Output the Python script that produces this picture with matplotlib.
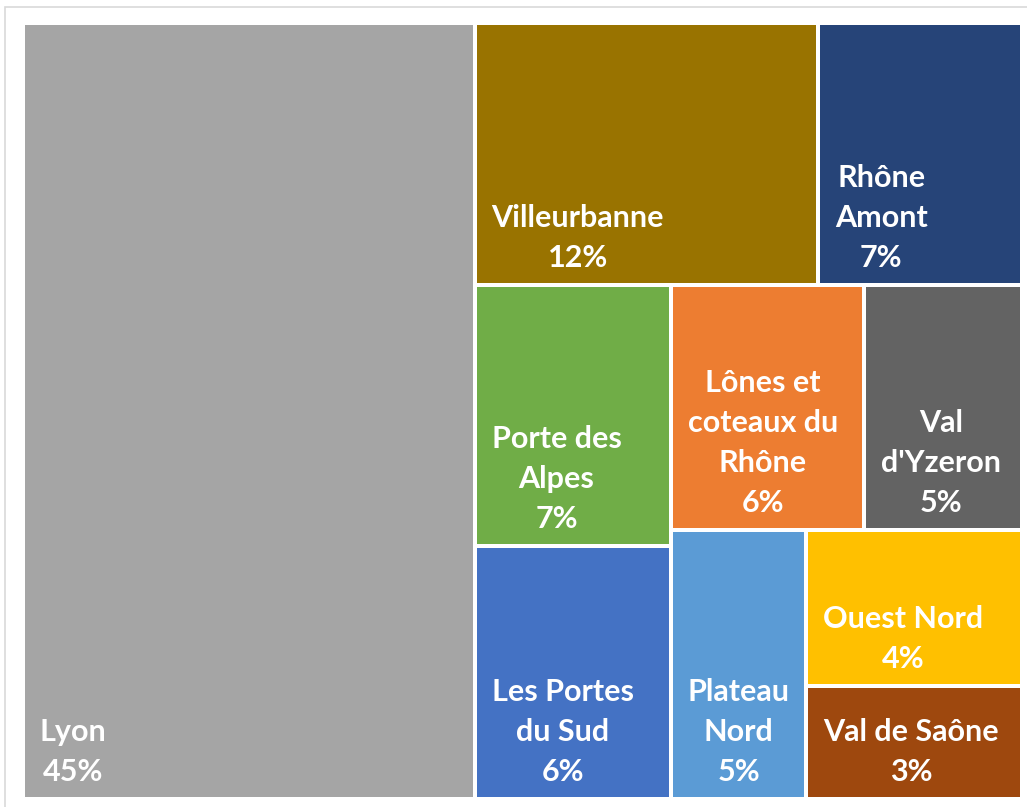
import matplotlib
matplotlib.use("Agg")
import matplotlib.pyplot as plt
from matplotlib.patches import Rectangle

# ---- data ----
names = ["Lyon", "Villeurbanne", "Rhône\nAmont", "Porte des\nAlpes", "Les Portes\ndu Sud",
         "Lônes et\ncoteaux du\nRhône", "Val\nd'Yzeron", "Plateau\nNord", "Ouest Nord",
         "Val de Saône"]
values = [45.2, 11.6, 6.9, 6.6, 6.4, 6.1, 5.0, 4.7, 4.35, 3.15]
colors = ["#A5A5A5", "#997300", "#264478", "#70AD47", "#4472C4",
          "#ED7D31", "#636363", "#5B9BD5", "#FFC000", "#9E480E"]

W, H = 999.0, 776.0  # axes size in pixels (data units = pixels)


def worst(row, side):
    s = sum(row)
    return max(max(side * side * r / (s * s), s * s / (side * side * r)) for r in row)


def layout_row(row, x, y, w, h):
    s = sum(row)
    rects = []
    if w >= h:  # column along left side
        cw = s / h
        yy = y
        for r in row:
            rh = r / cw
            rects.append((x, yy, cw, rh))
            yy += rh
        return rects, (x + cw, y, w - cw, h)
    else:  # row along top side
        rh = s / w
        xx = x
        for r in row:
            rw = r / rh
            rects.append((xx, y, rw, rh))
            xx += rw
        return rects, (x, y + rh, w, h - rh)


def squarify(areas, x, y, w, h):
    rects = []
    areas = list(areas)
    while areas:
        side = min(w, h)
        row = [areas.pop(0)]
        while areas and worst(row + [areas[0]], side) <= worst(row, side):
            row.append(areas.pop(0))
        r, (x, y, w, h) = layout_row(row, x, y, w, h)
        rects.extend(r)
    return rects


total = sum(values)
areas = [v / total * W * H for v in values]
rects = squarify(areas, 0, 0, W, H)

DPI = 100
fig = plt.figure(figsize=(10.27, 8.07), dpi=DPI)
fig.patch.set_facecolor("white")

# outer chart frame
frame = Rectangle((5 / 1027, -0.1), 1.2, 1 - 7 / 807 + 0.1, transform=fig.transFigure,
                  facecolor="none", edgecolor="#D9D9D9", linewidth=1.2, zorder=-10)
fig.patches.append(frame)

ax = fig.add_axes([23 / 1027, 1 - 799 / 807, W / 1027, H / 807])
ax.set_xlim(0, W)
ax.set_ylim(H, 0)
ax.axis("off")

px = 72.0 / DPI
for (x, y, w, h), name, v, c in zip(rects, names, values, colors):
    ax.add_patch(Rectangle((x, y), w, h, facecolor=c, edgecolor="white", linewidth=4 * px))
    label = f"{name}\n{round(v / total * 100)}%"
    ax.annotate(label, xy=(x, y + h), xytext=(17 * px, 18 * px), textcoords="offset points",
                ha="left", va="baseline", multialignment="center", color="white",
                fontsize=22, fontweight="bold", family=["Lato", "DejaVu Sans"],
                linespacing=1.52)

fig.savefig("out.png", dpi=DPI, facecolor="white")
